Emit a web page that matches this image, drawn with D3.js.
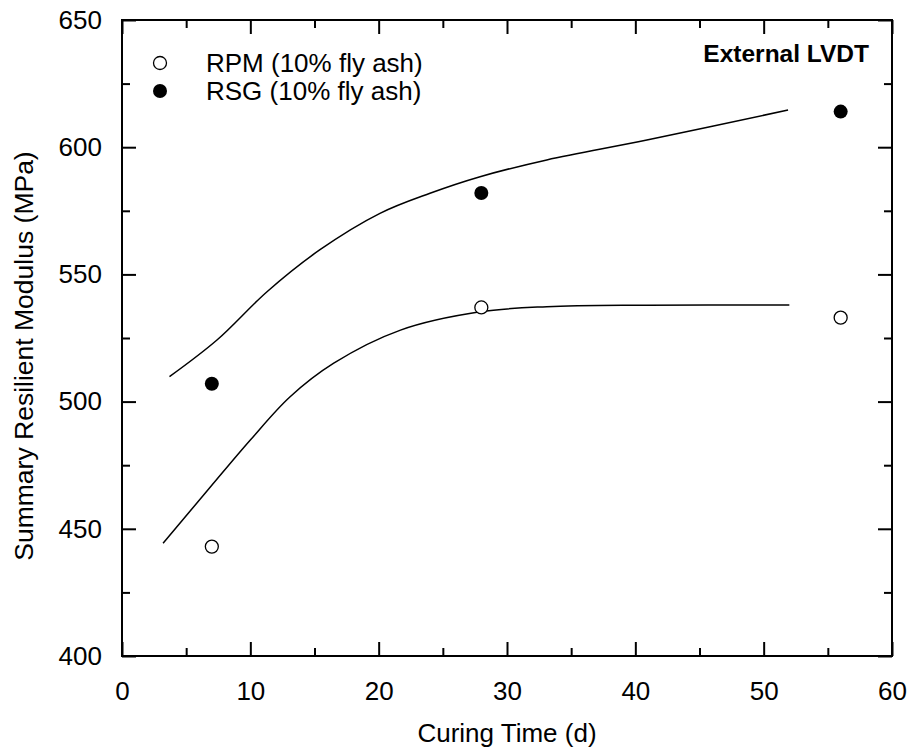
<!DOCTYPE html>
<html>
<head>
<meta charset="utf-8">
<script src="https://cdn.jsdelivr.net/npm/d3@7"></script>
<style>
  body { margin: 0; background: #fff; }
  text { font-family: "Liberation Sans", Arial, Helvetica, sans-serif; fill: #000; }
</style>
</head>
<body>
<svg width="912" height="755"></svg>
<script>
// measured points
var rpmDays = [7, 28, 56];
var rpmMr = [443, 537, 533];
var rsgDays = [7, 28, 56];
var rsgMr = [507, 582, 614];

// fitted curves
var rpmFitDays = [3.2, 6.9, 10.0, 13.1, 16.5, 21.7, 27.9, 33.1, 40.9, 52.0];
var rpmFitMr = [444.3, 466.5, 484.9, 501.9, 515.1, 528.1, 535.3, 537.3, 537.9, 538.0];
var rsgFitDays = [3.7, 7.4, 11.3, 15.4, 20.1, 24.0, 27.9, 33.1, 40.9, 51.9];
var rsgFitMr = [509.8, 524.2, 543.2, 559.6, 574.0, 581.9, 588.4, 595.0, 602.8, 614.6];

var legendLabels = ["RPM (10% fly ash)", "RSG (10% fly ash)"];
var xTicks = [0, 10, 20, 30, 40, 50, 60];
var yTicks = [400, 450, 500, 550, 600, 650];

var svg = d3.select("svg");
var m = {left: 122, top: 20, right: 892, bottom: 656};

var x = d3.scaleLinear().domain([0, 60]).range([m.left, m.right]);
var y = d3.scaleLinear().domain([400, 650]).range([m.bottom, m.top]);

var minorX = d3.range(5, 60, 10);
var minorY = d3.range(425, 650, 50);

function tidy(g) {
  g.select(".domain").remove();
  g.selectAll(".tick line").attr("stroke", "#000").attr("stroke-width", 2);
  g.selectAll("text").attr("font-size", 26);
}

// bottom
svg.append("g").attr("transform", "translate(0," + m.bottom + ")")
  .call(d3.axisBottom(x).tickValues(xTicks).tickSize(-14).tickPadding(26)).call(tidy);
svg.append("g").attr("transform", "translate(0," + m.bottom + ")")
  .call(d3.axisBottom(x).tickValues(minorX).tickSize(-8).tickFormat("")).call(tidy);
// top
svg.append("g").attr("transform", "translate(0," + m.top + ")")
  .call(d3.axisTop(x).tickValues(xTicks).tickSize(-14).tickFormat("")).call(tidy);
svg.append("g").attr("transform", "translate(0," + m.top + ")")
  .call(d3.axisTop(x).tickValues(minorX).tickSize(-8).tickFormat("")).call(tidy);
// left
svg.append("g").attr("transform", "translate(" + m.left + ",0)")
  .call(d3.axisLeft(y).tickValues(yTicks).tickSize(-14).tickPadding(20)).call(tidy);
svg.append("g").attr("transform", "translate(" + m.left + ",0)")
  .call(d3.axisLeft(y).tickValues(minorY).tickSize(-8).tickFormat("")).call(tidy);
// right
svg.append("g").attr("transform", "translate(" + m.right + ",0)")
  .call(d3.axisRight(y).tickValues(yTicks).tickSize(-14).tickFormat("")).call(tidy);
svg.append("g").attr("transform", "translate(" + m.right + ",0)")
  .call(d3.axisRight(y).tickValues(minorY).tickSize(-8).tickFormat("")).call(tidy);

svg.append("rect")
  .attr("x", m.left).attr("y", m.top)
  .attr("width", m.right - m.left).attr("height", m.bottom - m.top)
  .attr("fill", "none").attr("stroke", "#000").attr("stroke-width", 2);

var line = d3.line()
  .x(d => x(d[0]))
  .y(d => y(d[1]))
  .curve(d3.curveCatmullRom.alpha(0.5));

[[rpmFitDays, rpmFitMr], [rsgFitDays, rsgFitMr]].forEach(function(s) {
  svg.append("path")
    .attr("d", line(d3.zip(s[0], s[1])))
    .attr("fill", "none").attr("stroke", "#000").attr("stroke-width", 1.5);
});

svg.selectAll("circle.rpm").data(d3.zip(rpmDays, rpmMr)).enter().append("circle")
  .attr("cx", d => x(d[0])).attr("cy", d => y(d[1])).attr("r", 6.5)
  .attr("fill", "#fff").attr("stroke", "#000").attr("stroke-width", 1.3);
svg.selectAll("circle.rsg").data(d3.zip(rsgDays, rsgMr)).enter().append("circle")
  .attr("cx", d => x(d[0])).attr("cy", d => y(d[1])).attr("r", 7)
  .attr("fill", "#000");

// legend
var lg = svg.append("g");
legendLabels.forEach(function(t, i) {
  var yy = 63 + i * 28;
  lg.append("circle").attr("cx", 160).attr("cy", yy).attr("r", i ? 7 : 6.5)
    .attr("fill", i ? "#000" : "#fff").attr("stroke", "#000").attr("stroke-width", i ? 0 : 1.3);
  lg.append("text").attr("x", 206).attr("y", yy).attr("dy", "0.35em")
    .attr("font-size", 26).text(t);
});

svg.append("text").attr("x", 869).attr("y", 62)
  .attr("text-anchor", "end").attr("font-weight", "bold").attr("font-size", 24.5)
  .text("External LVDT");

svg.append("text").attr("x", (m.left + m.right) / 2).attr("y", 742)
  .attr("text-anchor", "middle").attr("font-size", 26)
  .text("Curing Time (d)");

svg.append("text")
  .attr("transform", "translate(33,356) rotate(-90)")
  .attr("text-anchor", "middle").attr("font-size", 26.5)
  .text("Summary Resilient Modulus (MPa)");
</script>
</body>
</html>
